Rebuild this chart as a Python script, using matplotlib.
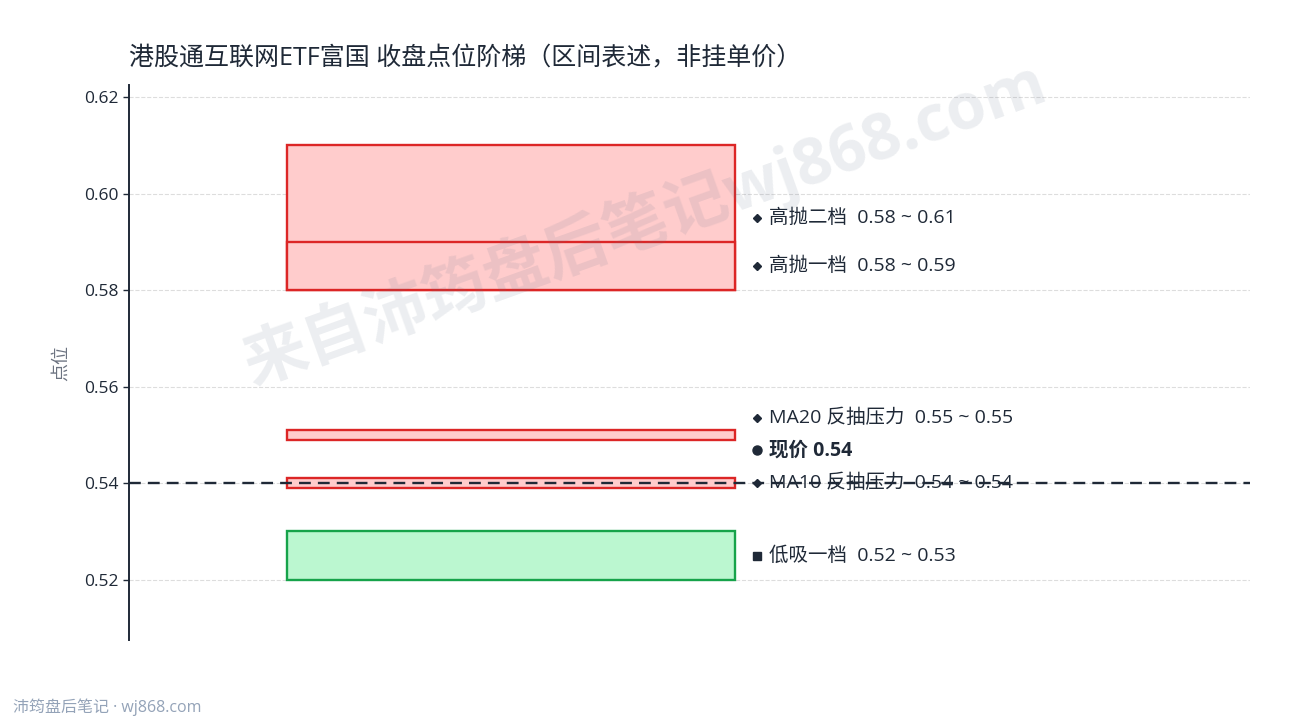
import numpy as np
import matplotlib
matplotlib.use('Agg')
import matplotlib.pyplot as plt
import matplotlib.patches as pch
from matplotlib.ticker import MultipleLocator

plt.rcParams['font.family'] = ['Open Sans', 'Noto Sans CJK SC', 'DejaVu Sans']

# Data
zone_names = ['高抛二档', '高抛一档', 'MA20 反抽压力', 'MA10 反抽压力', '低吸一档']
zone_low = [0.58, 0.58, 0.549, 0.539, 0.52]
zone_high = [0.61, 0.59, 0.551, 0.541, 0.53]
zone_kind = ['sell', 'sell', 'resist', 'resist', 'buy']
current_price = 0.54

TITLE = '港股通互联网ETF富国 收盘点位阶梯（区间表述，非挂单价）'
FOOTER = '沛筠盘后笔记 · wj868.com'
WATERMARK = '来自沛筠盘后笔记wj868.com'

# Styles
TEXT_DARK = '#1f2937'
RED_FACE = '#ffcccc'
RED_EDGE = '#dc2626'
GREEN_FACE = '#bbf7d0'
GREEN_EDGE = '#16a34a'
BOX_X0, BOX_X1 = 0.141, 0.541
LABEL_X = 0.56
LABEL_GAP = 0.0068
MARKERS = {'sell': ('D', 4.5), 'resist': ('D', 4.5), 'buy': ('s', 6)}

fig = plt.figure(figsize=(12.9, 7.2), dpi=100)
ax = fig.add_axes([0.1, 0.111, 0.869, 0.771])

for name, lo, hi, kind in zip(zone_names, zone_low, zone_high, zone_kind):
    face, edge = (GREEN_FACE, GREEN_EDGE) if kind == 'buy' else (RED_FACE, RED_EDGE)
    ax.add_patch(pch.Rectangle((BOX_X0, lo), BOX_X1 - BOX_X0, hi - lo,
                               facecolor=face, edgecolor=edge, linewidth=1.7, zorder=2))

ax.axhline(current_price, color=TEXT_DARK, linestyle=(0, (5, 3)), linewidth=1.7, zorder=10)

# labels, pushed up so they don't collide
labels = [(0.5 * (lo + hi), f'{name}  {lo:.2f} ~ {hi:.2f}', kind, False)
          for name, lo, hi, kind in zip(zone_names, zone_low, zone_high, zone_kind)]
labels.append((current_price, f'现价 {current_price:.2f}', 'now', True))
labels.sort(key=lambda l: (l[0], l[3]))
last_y = -np.inf
for y, text, kind, bold in labels:
    y = max(y, last_y + LABEL_GAP)
    last_y = y
    if kind == 'now':
        marker, ms = 'o', 6.5
    else:
        marker, ms = MARKERS[kind]
    ax.plot([LABEL_X], [y], marker=marker, markersize=ms, color=TEXT_DARK,
            linestyle='none', clip_on=False, zorder=5)
    ax.text(LABEL_X + 0.0105, y, text, va='center', ha='left', fontsize=14,
            color=TEXT_DARK, fontweight='bold' if bold else 'normal', zorder=5)

pad = 0.0125
ax.set_ylim(min(zone_low) - pad, max(zone_high) + pad)
ax.set_xlim(0, 1)
ax.yaxis.set_major_locator(MultipleLocator(0.02))
ax.yaxis.set_major_formatter(matplotlib.ticker.FormatStrFormatter('%.2f'))
ax.set_xticks([])
ax.tick_params(axis='y', labelsize=12.5, colors=TEXT_DARK, length=4, width=1)
for s in ['top', 'right', 'bottom']:
    ax.spines[s].set_visible(False)
ax.spines['left'].set_color(TEXT_DARK)
ax.spines['left'].set_linewidth(1.4)
ax.grid(axis='y', color='#dddddd', linestyle='--', linewidth=0.8)
ax.set_axisbelow(True)
ax.set_ylabel('点位', fontsize=13, color='#6b7280', labelpad=10)

fig.text(0.1, 0.918, TITLE, fontsize=18, color=TEXT_DARK, va='center', ha='left')
fig.text(0.01, 0.018, FOOTER, fontsize=11.5, color='#94a3b8', va='center', ha='left')
fig.text(0.5, 0.69, WATERMARK, fontsize=46, fontweight='bold', color='#64748b',
         alpha=0.12, rotation=19.7, ha='center', va='center', zorder=20)

fig.savefig('out.png', dpi=100)
